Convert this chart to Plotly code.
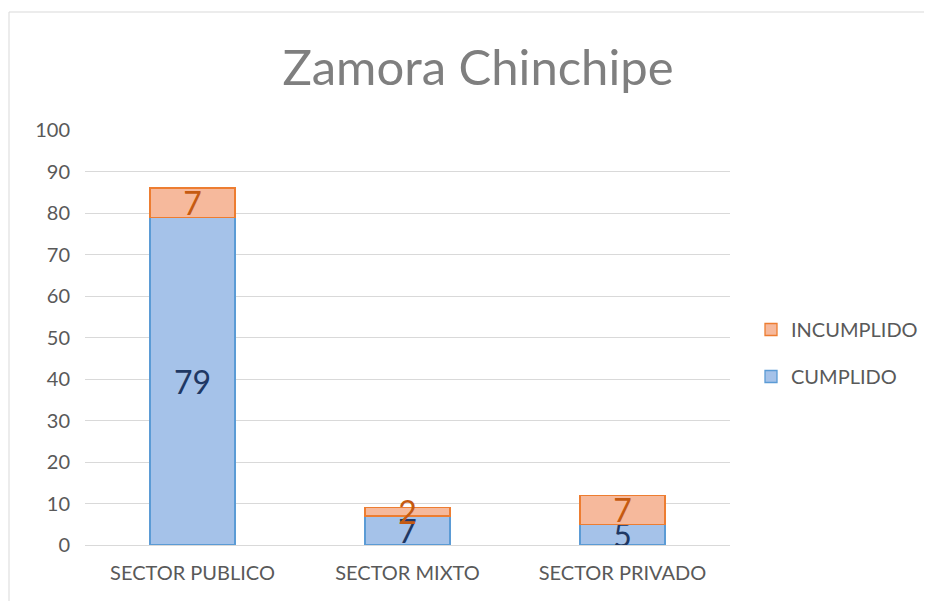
import plotly.graph_objects as go

categories = ["SECTOR PUBLICO", "SECTOR MIXTO", "SECTOR PRIVADO"]
cumplido = [79, 7, 5]
incumplido = [7, 2, 7]
y_ticks = [0, 10, 20, 30, 40, 50, 60, 70, 80, 90, 100]
title_text = "Zamora Chinchipe"

FONT = "Lato, 'Open Sans', sans-serif"

# page has an 8px body margin; work in page pixel coordinates
OFF = 8
W, H = 932 - OFF, 601 - OFF
PL, PR, PT, PB = 85, 730, 130, 545  # plot area in page pixels
L, R, T, B = PL - OFF, (W + OFF) - PR, PT - OFF, (H + OFF) - PB
pw, ph = PR - PL, PB - PT

def px_x(px):
    return (px - PL) / pw

def px_y(py):
    return (PB - py) / ph

fig = go.Figure()
fig.add_trace(go.Bar(
    name="CUMPLIDO", x=categories, y=cumplido,
    marker=dict(color="#A5C2E9", line=dict(color="#5B9BD5", width=1.3)),
    text=[str(v) for v in cumplido], textposition="inside", textangle=0,
    insidetextanchor="middle", constraintext="none",
    textfont=dict(family=FONT, size=32, color="#1F3864"),
    legendgroup="cumplido", legendrank=2,
))
fig.add_trace(go.Bar(
    name="INCUMPLIDO", x=categories, y=incumplido,
    marker=dict(color="#F6B99C", line=dict(color="#ED7D31", width=1.3)),
    text=[str(v) for v in incumplido], textposition="inside", textangle=0,
    insidetextanchor="middle", constraintext="none",
    textfont=dict(family=FONT, size=32, color="#C55A11"),
    legendgroup="incumplido", legendrank=1,
))

fig.update_layout(
    width=W, height=H,
    margin=dict(l=L, r=R, t=T, b=B, autoexpand=False),
    barmode="stack", bargap=0.605,
    plot_bgcolor="white", paper_bgcolor="white",
    font=dict(family=FONT, color="#595959"),
    title=dict(text=title_text, x=px_x(478), xref="paper", xanchor="center",
               y=1 - (68 - OFF) / H, yanchor="middle",
               font=dict(family=FONT, size=49, color="#7F7F7F")),
    xaxis=dict(showgrid=False, showline=False, ticks="", ticklabelstandoff=14,
               tickfont=dict(family=FONT, size=20, color="#595959")),
    yaxis=dict(range=[0, 100], tickvals=y_ticks, showgrid=True, gridcolor="#D9D9D9",
               gridwidth=1, zeroline=True, zerolinecolor="#D9D9D9", zerolinewidth=1,
               ticks="", ticklabelstandoff=14,
               tickfont=dict(family=FONT, size=20, color="#595959")),
    legend=dict(x=px_x(751), y=px_y(353), xanchor="left", yanchor="middle",
                traceorder="grouped", tracegroupgap=18,
                font=dict(family=FONT, size=20, color="#595959"),
                itemwidth=30, bgcolor="rgba(0,0,0,0)"),
    shapes=[
        dict(type="line", xref="paper", yref="paper",
             x0=px_x(9), x1=px_x(940), y0=px_y(12), y1=px_y(12),
             line=dict(color="#D9D9D9", width=1)),
        dict(type="line", xref="paper", yref="paper",
             x0=px_x(9), x1=px_x(9), y0=px_y(12), y1=px_y(610),
             line=dict(color="#D9D9D9", width=1)),
    ],
)

fig.write_html("out.html")
